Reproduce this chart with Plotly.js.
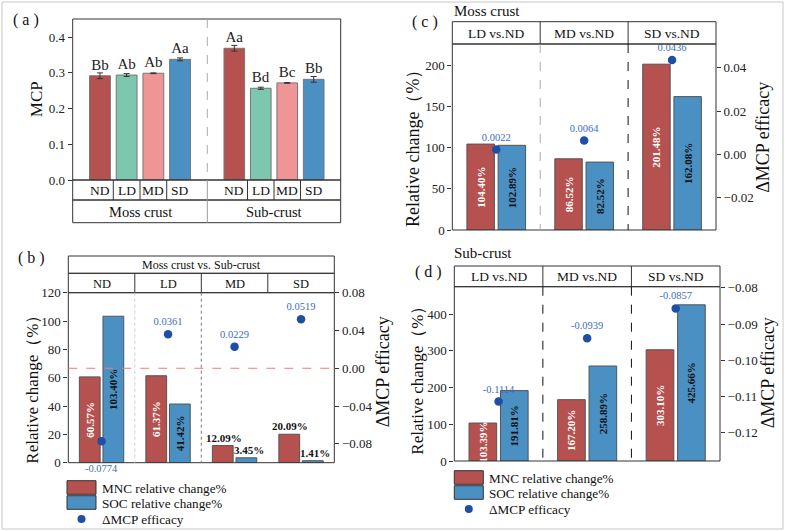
<!DOCTYPE html>
<html>
<head>
<meta charset="utf-8">
<script src="https://cdn.plot.ly/plotly-3.0.1.min.js"></script>
<style>
  body { margin: 0; background: #fff; }
  #fig { width: 785px; height: 531px; }
</style>
</head>
<body>
<div id="fig"></div>
<script>
// (a) MCP by disturbance level
const groups = ['ND', 'LD', 'MD', 'SD'];
const mossMCP = [0.292, 0.294, 0.299, 0.338];
const mossErr = [0.008, 0.004, 0.001, 0.004];
const mossLetters = ['Bb', 'Ab', 'Ab', 'Aa'];
const subMCP = [0.369, 0.257, 0.272, 0.282];
const subErr = [0.008, 0.003, 0.001, 0.008];
const subLetters = ['Aa', 'Bd', 'Bc', 'Bb'];

// (b) moss crust vs. sub-crust
const bMNC = [60.57, 61.37, 12.09, 20.09];
const bSOC = [103.40, 41.42, 3.45, 1.41];
const bDelta = [-0.0774, 0.0361, 0.0229, 0.0519];

// (c) moss crust, (d) sub-crust: each level vs. ND
const contrasts = ['LD vs.ND', 'MD vs.ND', 'SD vs.ND'];
const cMNC = [104.40, 86.52, 201.48];
const cSOC = [102.89, 82.52, 162.08];
const cDelta = [0.0022, 0.0064, 0.0436];
const dMNC = [103.39, 167.20, 303.10];
const dSOC = [191.81, 258.89, 425.66];
const dDelta = [-0.1114, -0.0939, -0.0857];

const legendNames = ['MNC relative change%', 'SOC relative change%', 'ΔMCP efficacy'];
const relTitle = 'Relative change（%）';

const W = 785, H = 531;
const fx = p => p / W;
const fy = p => 1 - p / H;
const serif = 'Liberation Serif, Times New Roman, serif';
const RED = '#b5514f', BLUE = '#4a90c3', TEAL = '#7cc7ad', PINK = '#f09595';
const DOT = '#1f4ea6', DOTTXT = '#3d6cc0';
const pct = v => v.toFixed(2) + '%';
const num = v => v.toFixed(4);

const traces = [];
const shapes = [];
const annotations = [];

// ---- panel (a)
[[mossMCP, mossErr, mossLetters, 'x'], [subMCP, subErr, subLetters, 'x2']].forEach(([vals, errs, letters, xa]) => {
  traces.push({
    type: 'bar', x: groups, y: vals, xaxis: xa, yaxis: 'y', width: 0.78,
    marker: { color: [RED, TEAL, PINK, BLUE], line: { color: '#777', width: 1 } },
    error_y: { type: 'data', array: errs, color: '#333', thickness: 1, width: 3 },
    text: letters, textposition: 'outside', cliponaxis: false,
    textfont: { family: serif, size: 15, color: '#222' }, showlegend: false
  });
});

// ---- grouped panels (b), (c), (d)
function pair(cats, mnc, soc, delta, xa, ya, ya2, small) {
  const pos = vals => vals.map(v => (small && v <= small) ? 'none' : 'inside');
  traces.push({
    type: 'bar', x: cats, y: mnc, xaxis: xa, yaxis: ya, name: legendNames[0],
    marker: { color: RED, line: { color: '#555', width: 1 } },
    text: mnc.map(pct), textposition: pos(mnc), textangle: -90,
    insidetextanchor: 'middle', constraintext: 'none',
    textfont: { family: serif, size: 11, color: '#fff', weight: 'bold' }, showlegend: false
  });
  traces.push({
    type: 'bar', x: cats, y: soc, xaxis: xa, yaxis: ya, name: legendNames[1],
    marker: { color: BLUE, line: { color: '#555', width: 1 } },
    text: soc.map(pct), textposition: pos(soc), textangle: -90,
    insidetextanchor: 'middle', constraintext: 'none',
    textfont: { family: serif, size: 11, color: '#111', weight: 'bold' }, showlegend: false
  });
  traces.push({
    type: 'scatter', mode: 'markers+text', x: cats, y: delta, xaxis: xa, yaxis: ya2,
    name: legendNames[2], marker: { color: DOT, size: 8.5 },
    text: delta.map(v => (small && v < 0) ? '' : num(v)), textposition: 'top center', cliponaxis: false,
    textfont: { family: serif, size: 10.5, color: DOTTXT }, showlegend: false
  });
}

pair(groups, bMNC, bSOC, bDelta, 'x3', 'y3', 'y4', 30);
pair(contrasts, cMNC, cSOC, cDelta, 'x5', 'y5', 'y6');
pair(contrasts, dMNC, dSOC, dDelta, 'x7', 'y7', 'y8');

// (b): short bars get their label on top, the negative dot its label under the axis
const boldFont = { family: serif, size: 11, color: '#111', weight: 'bold' };
bMNC.forEach((v, i) => {
  if (v <= 30) annotations.push({ x: groups[i], y: v, xref: 'x3', yref: 'y3', xshift: -11, yanchor: 'bottom',
    text: pct(v), showarrow: false, font: boldFont });
});
bSOC.forEach((v, i) => {
  if (v <= 30) annotations.push({ x: groups[i], y: v, xref: 'x3', yref: 'y3', xshift: 14, yanchor: 'bottom',
    text: pct(v), showarrow: false, font: boldFont });
});
bDelta.forEach((v, i) => {
  if (v < 0) annotations.push({ x: groups[i], y: v, xref: 'x3', yref: 'y4', yshift: -27,
    text: num(v), showarrow: false, font: { family: serif, size: 10.5, color: DOTTXT } });
});

// ---- frames and boxes
const line = { color: '#333', width: 1 };
function rect(x0, y0, x1, y1, ln, fill) {
  shapes.push({ type: 'rect', xref: 'paper', yref: 'paper', x0: fx(x0), x1: fx(x1), y0: fy(y0), y1: fy(y1),
    line: ln || line, fillcolor: fill || 'rgba(0,0,0,0)' });
}
function vline(xref, x, y0, y1, ln) {
  shapes.push({ type: 'line', xref: xref, yref: 'paper', x0: x, x1: x, y0: fy(y0), y1: fy(y1), line: ln || line });
}
function label(xref, x, y, text, size, extra) {
  annotations.push(Object.assign({ xref: xref, yref: 'paper', x: x, y: fy(y), text: text, showarrow: false,
    xanchor: 'center', yanchor: 'middle', font: { family: serif, size: size, color: '#111' } }, extra || {}));
}
function vtitle(x, y, text, size) {
  label('paper', fx(x), y, text, size, { textangle: -90 });
}

// outer border
rect(2, 2, 783, 529, { color: '#c8c8c8', width: 1 });

// (a)
rect(72.7, 19, 340.7, 180);
rect(72.7, 180, 340.7, 200);
rect(72.7, 200, 340.7, 222.7);
vline('paper', fx(207.3), 19, 180, { color: '#aaa', width: 1, dash: 'dash' });
vline('paper', fx(207.3), 180, 222.7, { color: '#999', width: 1 });
[0.5, 1.5, 2.5].forEach(b => { vline('x', b, 180, 200); vline('x2', b, 180, 200); });
groups.forEach(g => { label('x', g, 190.5, g, 13.5); label('x2', g, 190.5, g, 13.5); });
label('x', 1.5, 211.5, 'Moss crust', 14.5);
label('x2', 1.5, 211.5, 'Sub-crust', 14.5);
label('paper', fx(26), 20, '( a )', 16);
vtitle(36.7, 99.5, 'MCP', 17);

// (b)
rect(68.3, 256, 334.3, 273.3);
rect(68.3, 273.3, 334.3, 292.7);
rect(68.3, 292.7, 334.3, 462.7);
[0.5, 1.5, 2.5].forEach(b => vline('x3', b, 273.3, 292.7));
vline('x3', 0.5, 292.7, 462.7, { color: '#ccc', width: 1, dash: 'dot' });
vline('x3', 1.5, 292.7, 462.7, { color: '#777', width: 1, dash: 'dot' });
label('paper', fx(201.3), 265, 'Moss crust vs. Sub-crust', 12);
groups.forEach(g => label('x3', g, 283.5, g, 12.5));
label('paper', fx(31), 257.5, '( b )', 16);
shapes.push({ type: 'line', xref: 'paper', yref: 'y4', x0: fx(68.3), x1: fx(334.3), y0: 0, y1: 0,
  line: { color: '#f07b7b', width: 1, dash: 'dash' } });
vtitle(31.7, 385, relTitle, 17);
vtitle(383.3, 372, legendNames[2], 18);

// (c)
rect(452.3, 21.7, 716, 44);
rect(452.3, 44, 716, 230);
[0.5, 1.5].forEach(b => vline('x5', b, 21.7, 44));
vline('x5', 0.5, 44, 230, { color: '#aaa', width: 1, dash: 'dash' });
vline('x5', 1.5, 44, 230, { color: '#111', width: 1, dash: 'dash' });
contrasts.forEach(c => label('x5', c, 33.5, c, 13.5));
label('paper', fx(452.3), 11, 'Moss crust', 15, { xanchor: 'left' });
label('paper', fx(425), 22, '( c )', 16);
vtitle(413, 144, relTitle, 18);
vtitle(763.3, 137.5, legendNames[2], 18);

// (d)
rect(454.3, 266, 720, 286.7);
rect(454.3, 286.7, 720, 461);
[0.5, 1.5].forEach(b => vline('x7', b, 266, 286.7));
vline('x7', 0.5, 286.7, 461, { color: '#111', width: 1, dash: 'dash' });
vline('x7', 1.5, 286.7, 461, { color: '#111', width: 1, dash: 'dash' });
contrasts.forEach(c => label('x7', c, 276.5, c, 13.5));
label('paper', fx(452.3), 253, 'Sub-crust', 15, { xanchor: 'left' });
label('paper', fx(428), 272, '( d )', 16);
vtitle(418, 376.7, relTitle, 17);
vtitle(768.3, 373, legendNames[2], 18);

// legends drawn by hand (wide swatches)
function legend(x, y) {
  rect(x, y, x + 29, y + 13.6, { color: '#333', width: 1 }, RED);
  rect(x, y + 15, x + 29, y + 28.6, { color: '#333', width: 1 }, BLUE);
  shapes.push({ type: 'circle', xref: 'paper', yref: 'paper', x0: fx(x + 10.5), x1: fx(x + 18.5),
    y0: fy(y + 42.3), y1: fy(y + 34.3), fillcolor: DOT, line: { width: 0 } });
  label('paper', fx(x + 33), y + 7.5, legendNames[0], 13.2, { xanchor: 'left' });
  label('paper', fx(x + 33), y + 22.5, legendNames[1], 13.2, { xanchor: 'left' });
  label('paper', fx(x + 33), y + 38.5, legendNames[2], 13.2, { xanchor: 'left' });
}
legend(67, 480.7);
legend(454.3, 470.7);

// ---- axes
const tickfont = { family: serif, size: 13, color: '#222' };
function catAxis(dom, anchor, range) {
  return { domain: [fx(dom[0]), fx(dom[1])], anchor: anchor, type: 'category', range: range,
    showticklabels: false, ticks: '', showgrid: false, zeroline: false, showline: false, fixedrange: true };
}
function leftAxis(dom, anchor, range, dtick, fmt) {
  return { domain: [fy(dom[1]), fy(dom[0])], anchor: anchor, range: range, dtick: dtick, tickformat: fmt,
    ticks: 'outside', ticklen: 4, tickcolor: '#333', tickfont: tickfont, showgrid: false, zeroline: false,
    showline: false };
}
function rightAxis(overlay, anchor, range, vals) {
  return { overlaying: overlay, anchor: anchor, side: 'right', range: range, tickvals: vals, tickformat: '.2f',
    ticks: 'outside', ticklen: 4, tickcolor: '#333', tickfont: tickfont, showgrid: false, zeroline: false,
    showline: false };
}

const layout = {
  width: W, height: H, margin: { l: 0, r: 0, t: 0, b: 0 },
  paper_bgcolor: '#fff', plot_bgcolor: 'rgba(0,0,0,0)',
  barmode: 'group', bargap: 0.29, bargroupgap: 0.12,
  font: { family: serif, color: '#111' }, showlegend: false,
  xaxis: catAxis([72.7, 207.3], 'y', [-1.02, 4.02]),
  xaxis2: catAxis([207.3, 340.7], 'y', [-1.02, 4.02]),
  yaxis: leftAxis([19, 180], 'x', [0, 0.451], 0.1, '.1f'),
  xaxis3: catAxis([68.3, 334.3], 'y3', [-0.5, 3.5]),
  yaxis3: leftAxis([292.7, 462.7], 'x3', [0, 120], 20),
  yaxis4: rightAxis('y3', 'x3', [-0.1, 0.08], [-0.08, -0.04, 0, 0.04, 0.08]),
  xaxis5: catAxis([452.3, 716], 'y5', [-0.5, 2.5]),
  yaxis5: leftAxis([44, 230], 'x5', [0, 226], 50),
  yaxis6: rightAxis('y5', 'x5', [-0.035, 0.051], [-0.02, 0, 0.02, 0.04]),
  xaxis7: catAxis([454.3, 720], 'y7', [-0.5, 2.5]),
  yaxis7: leftAxis([286.7, 461], 'x7', [0, 475], 100),
  yaxis8: rightAxis('y7', 'x7', [-0.1278, -0.0797], [-0.12, -0.11, -0.10, -0.09, -0.08]),
  shapes: shapes, annotations: annotations
};

Plotly.newPlot('fig', traces, layout, { displayModeBar: false, staticPlot: true });
</script>
</body>
</html>
